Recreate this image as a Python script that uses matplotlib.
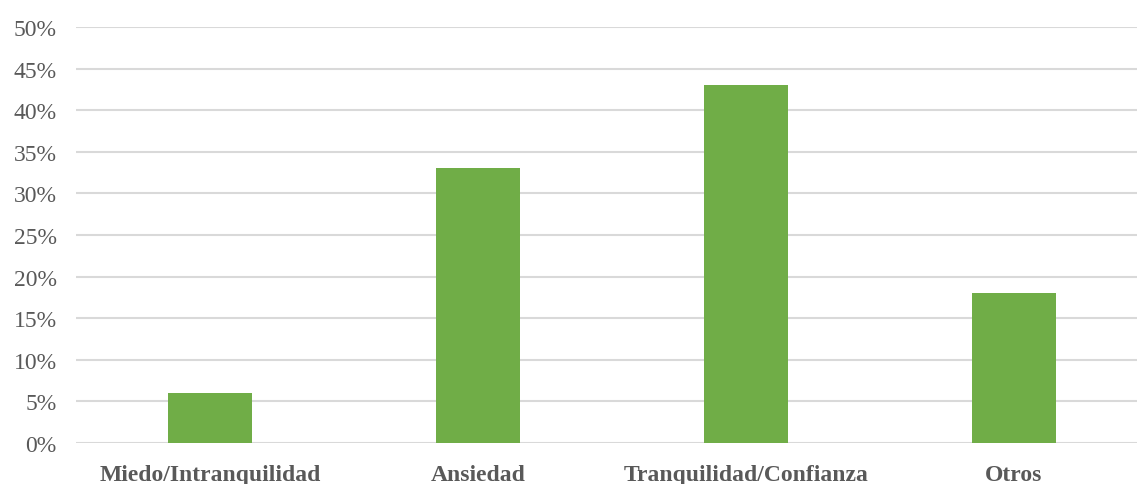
import matplotlib
matplotlib.use("Agg")
import matplotlib.pyplot as plt
from matplotlib.ticker import FuncFormatter

categories = ["Miedo/Intranquilidad", "Ansiedad", "Tranquilidad/Confianza", "Otros"]
values = [6, 33, 43, 18]
y_ticks = [0, 5, 10, 15, 20, 25, 30, 35, 40, 45, 50]

W, H = 1137, 485
fig = plt.figure(figsize=(W / 100, H / 100), dpi=100)
left, right, bottom, top = 76, 1137, 444, 28
ax = fig.add_axes([left / W, 1 - bottom / H, (right - left) / W, (bottom - top) / H])

x = range(len(categories))
ax.bar(x, values, width=0.313, color="#70AD47", zorder=3)

ax.set_ylim(0, 50)
ax.set_xlim(-0.5, 3.5 - 11 / 268)
ax.set_yticks(y_ticks)
ax.yaxis.set_major_formatter(FuncFormatter(lambda v, p: f"{int(v)}%"))
ax.grid(axis="y", color="#D9D9D9", linewidth=1.5, zorder=0)
ax.set_xticks(list(x))
ax.set_xticklabels(categories, fontweight="bold")

for s in ax.spines.values():
    s.set_visible(False)
ax.tick_params(axis="both", length=0)
ax.tick_params(axis="y", labelsize=17, labelcolor="#595959", pad=14)
ax.tick_params(axis="x", labelsize=17, labelcolor="#595959", pad=15)
for lab in ax.get_yticklabels() + ax.get_xticklabels():
    lab.set_family("Liberation Serif")

fig.savefig("out.png", dpi=100)
